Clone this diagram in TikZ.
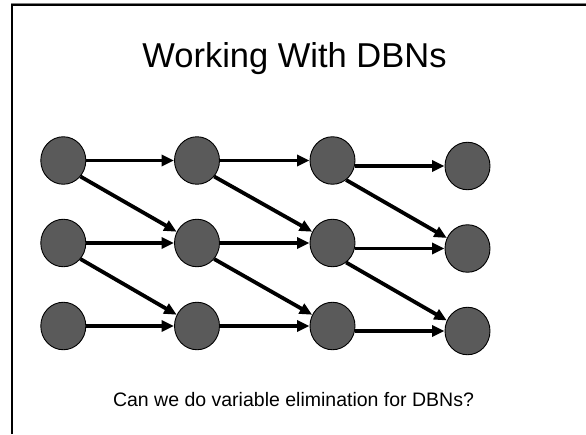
\documentclass[tikz,border=0pt]{standalone}
\usepackage{fontspec}
\setmainfont{Liberation Sans}
\usetikzlibrary{arrows.meta,shapes.geometric}
\definecolor{nodegray}{RGB}{90,90,90}
\begin{document}
\begin{tikzpicture}[x=1pt,y=-1pt,
  var/.style={ellipse,draw=black,line width=0.9pt,fill=nodegray,minimum width=45pt,minimum height=47.5pt,inner sep=0pt},
  arr/.style={line width=3.8pt,-{Triangle[length=12.5pt,width=11pt]}},
  frame/.style={line width=2pt,black}]
\useasboundingbox (0,0) rectangle (586,434);
\fill[white] (0,0) rectangle (586,434);
% frame
\draw[gray,line width=1pt] (11,3.2) -- (586,3.2);
\draw[frame] (12,434) -- (12,4.8) -- (586,4.8);
% title
\node[anchor=base,inner sep=0pt,font=\fontsize{34.5}{40}\selectfont] (title) at (294.5,67.3) {Working With DBNs};
% nodes
\node[var] (n11) at (63.3,160.5) {};
\node[var] (n12) at (197,160.5) {};
\node[var] (n13) at (332.5,160.5) {};
\node[var] (n14) at (467.5,166) {};
\node[var] (n21) at (63.3,243) {};
\node[var] (n22) at (197,243) {};
\node[var] (n23) at (332.5,243) {};
\node[var] (n24) at (467.5,248.5) {};
\node[var] (n31) at (63.3,326) {};
\node[var] (n32) at (197,326) {};
\node[var] (n33) at (332.5,326) {};
\node[var] (n34) at (467.5,331) {};
% horizontal arrows
\draw[arr] (n11.east) -- (n12.west);
\draw[arr] (n12.east) -- (n13.west);
\draw[arr] (n13.east |- n14.west) -- (n14.west);
\draw[arr] (n21.east) -- (n22.west);
\draw[arr] (n22.east) -- (n23.west);
\draw[arr] (n23.east |- n24.west) -- (n24.west);
\draw[arr] (n31.east) -- (n32.west);
\draw[arr] (n32.east) -- (n33.west);
\draw[arr] (n33.east |- n34.west) -- (n34.west);
% diagonal arrows
\draw[arr] (n11.-43) -- (n22.151);
\draw[arr] (n12.-43) -- (n23.151);
\draw[arr] (n13.-55) -- (n24.153);
\draw[arr] (n21.-43) -- (n32.151);
\draw[arr] (n22.-43) -- (n33.151);
\draw[arr] (n23.-55) -- (n34.153);
% caption
\node[anchor=base,inner sep=0pt,font=\fontsize{19.5}{23}\selectfont] (caption) at (293.5,406.5) {Can we do variable elimination for DBNs?};
\end{tikzpicture}
\end{document}
